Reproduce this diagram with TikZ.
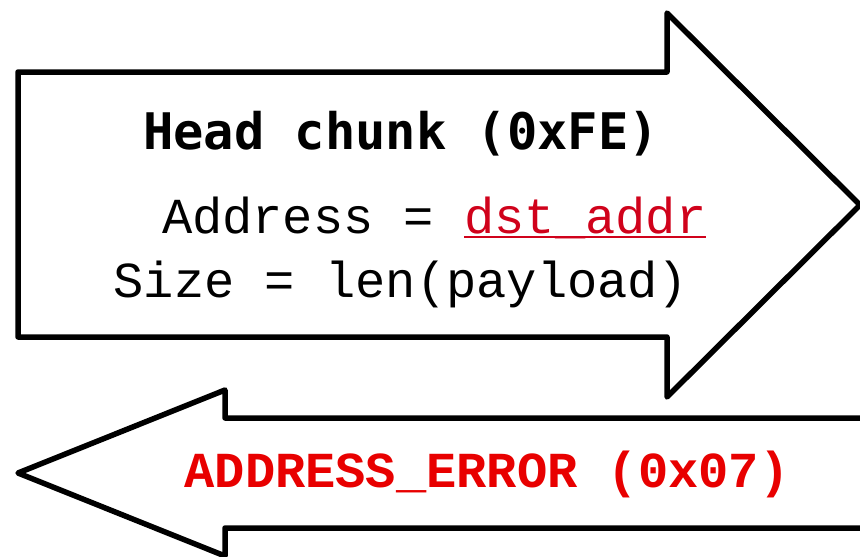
\documentclass[tikz,border=0pt]{standalone}
\usepackage{fontspec}
\usepackage{tikz}
\usetikzlibrary{positioning,calc}
\newfontfamily\chunkfont{DejaVu Sans Mono}
\newfontfamily\codefont{Liberation Mono}
\definecolor{dstred}{RGB}{208,2,27}
\definecolor{errred}{RGB}{232,0,0}

\begin{document}
\begin{tikzpicture}[x=1pt, y=-1pt,
    arrowshape/.style={draw=black, fill=white, line width=5.5pt, line join=round},
    every node/.style={inner sep=0pt, outer sep=0pt},
    txt/.style={anchor=base west, font=\fontsize{50.4}{60}\selectfont\codefont}]
    \useasboundingbox (0,0) rectangle (860,557);
    % request arrow
    \draw[arrowshape] (18,72) -- (667,72) -- (667,13) -- (860,205) -- (667,397) -- (667,337) -- (18,337) -- cycle;
    % reply arrow
    \draw[arrowshape] (880,418) -- (225,418) -- (225,390) -- (18,473) -- (225,556) -- (225,528) -- (880,528);
    \node (head) [anchor=base, font=\fontsize{50.4}{60}\selectfont\chunkfont\bfseries] at (401,149) {Head chunk (0xFE)};
    \node (addr) [txt] at (162,233) {Address =\ \mbox{}};
    \node (dst) [txt, text=dstred] at (addr.base east) {dst\_addr};
    \draw[dstred, line width=2pt] ([yshift=-4pt]dst.base west) -- ([yshift=-4pt]dst.base east);
    \node (size) [anchor=base, font=\fontsize{50.4}{60}\selectfont\codefont] at (401,297) {Size = len(payload)};
    \node (err) [anchor=base, text=errred, font=\fontsize{50.4}{60}\selectfont\codefont\bfseries] at (487,487) {ADDRESS\_ERROR (0x07)};
\end{tikzpicture}
\end{document}
